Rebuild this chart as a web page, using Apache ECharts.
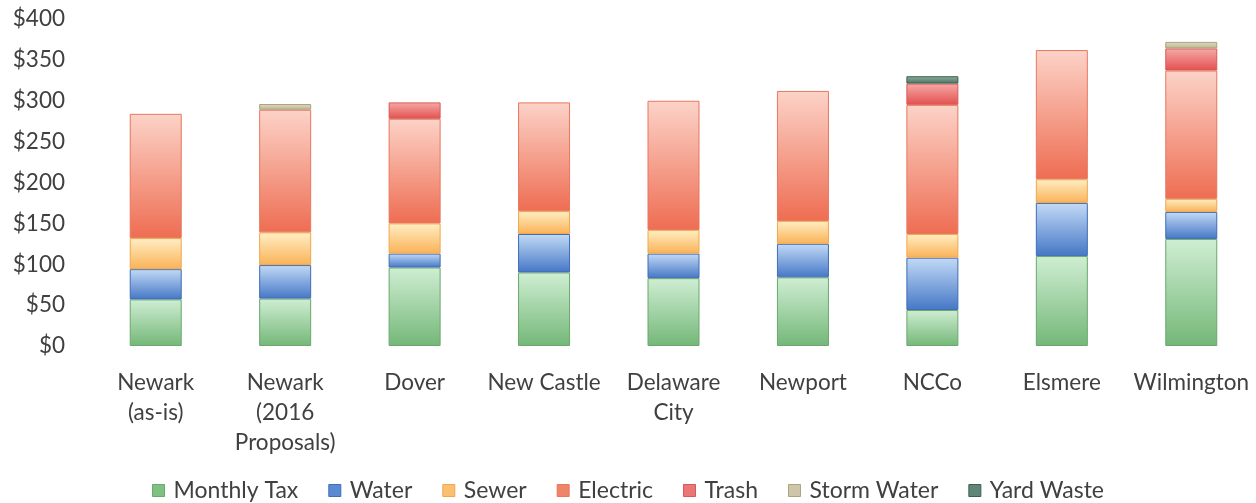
<!DOCTYPE html>
<html>
<head>
<meta charset="utf-8">
<script src="https://cdn.jsdelivr.net/npm/echarts@6/dist/echarts.min.js"></script>
<style>
html,body{margin:0;padding:0;background:#fff;}
#chart{width:1256px;height:503px;}
</style>
</head>
<body>
<div id="chart"></div>
<script>
const categories = ['Newark\n(as-is)', 'Newark\n(2016\nProposals)', 'Dover', 'New Castle', 'Delaware\nCity', 'Newport', 'NCCo', 'Elsmere', 'Wilmington'];
const monthlyTax = [57, 58, 96, 90, 83, 84, 44, 110, 131];
const water      = [37, 41, 17, 47, 30, 41, 64, 65, 33];
const sewer      = [38, 40, 37, 28, 29, 28, 29, 29, 16];
const electric   = [152, 150, 128, 133, 158, 159, 158, 158, 157];
const trash      = [0, 0, 20, 0, 0, 0, 26, 0, 27];
const stormWater = [0, 7, 0, 0, 0, 0, 0, 0, 8];
const yardWaste  = [0, 0, 0, 0, 0, 0, 9, 0, 0];
const yTicks = [0, 50, 100, 150, 200, 250, 300, 350, 400];

const font = 'Lato, "Open Sans", sans-serif';
function grad(top, bottom) {
  return new echarts.graphic.LinearGradient(0, 0, 0, 1, [
    {offset: 0, color: top}, {offset: 1, color: bottom}
  ]);
}
const seriesDefs = [
  {name: 'Monthly Tax', data: monthlyTax, top: '#cfeed3', bot: '#74b778', border: '#6aa86e', legend: '#7fc083'},
  {name: 'Water', data: water, top: '#c3daf6', bot: '#4577c6', border: '#3f6db6', legend: '#5a8ad4'},
  {name: 'Sewer', data: sewer, top: '#ffeec4', bot: '#fab257', border: '#f0a74e', legend: '#fbbf72'},
  {name: 'Electric', data: electric, top: '#fcd3c8', bot: '#ee6d52', border: '#e7775f', legend: '#f08468'},
  {name: 'Trash', data: trash, top: '#f6aaa8', bot: '#e2504f', border: '#d85a58', legend: '#ea7676'},
  {name: 'Storm Water', data: stormWater, top: '#e0dac3', bot: '#bdb48e', border: '#aaa280', legend: '#cdc6a8'},
  {name: 'Yard Waste', data: yardWaste, top: '#8fb0a0', bot: '#4b7262', border: '#3d5e50', legend: '#5f8676'}
];

const chart = echarts.init(document.getElementById('chart'), null, {renderer: 'canvas'});
chart.setOption({
  animation: false,
  backgroundColor: '#ffffff',
  grid: {left: 91, right: 0, top: 19, bottom: 157, containLabel: false},
  legend: {
    top: 474,
    left: 'center',
    itemWidth: 12,
    itemHeight: 12,
    itemGap: 30,
    icon: 'rect',
    textStyle: {fontFamily: font, fontSize: 23, color: '#404040', padding: [0, 0, 0, 4]},
    data: seriesDefs.map(s => ({name: s.name, itemStyle: {color: s.legend, borderColor: s.border, borderWidth: 1}}))
  },
  xAxis: {
    type: 'category',
    data: categories,
    axisLine: {show: false},
    axisTick: {show: false},
    axisLabel: {fontFamily: font, fontSize: 22.5, color: '#404040', lineHeight: 30, margin: 22, interval: 0}
  },
  yAxis: {
    type: 'value',
    min: 0,
    max: 400,
    interval: 50,
    splitLine: {show: false},
    axisLine: {show: false},
    axisTick: {show: false},
    axisLabel: {
      fontFamily: font, fontSize: 22.5, color: '#404040', margin: 26,
      formatter: v => yTicks.includes(v) ? '$' + v : ''
    }
  },
  series: seriesDefs.map(s => ({
    name: s.name,
    type: 'bar',
    stack: 'total',
    barWidth: 52,
    data: s.data.map(v => v === 0 ? null : v),
    itemStyle: {color: grad(s.top, s.bot), borderColor: s.border, borderWidth: 1}
  }))
});
</script>
</body>
</html>
